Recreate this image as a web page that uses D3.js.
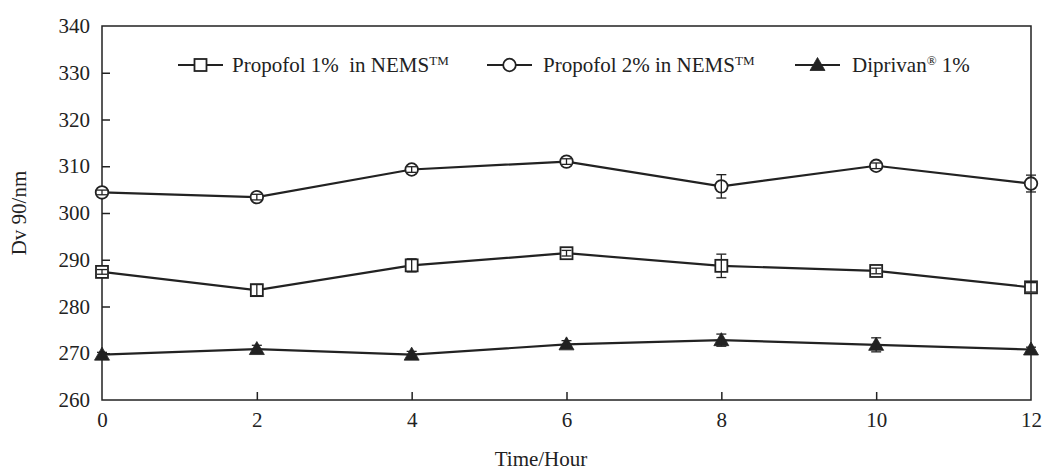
<!DOCTYPE html>
<html><head><meta charset="utf-8">
<script src="https://cdn.jsdelivr.net/npm/d3@7"></script>
<style>body{margin:0;background:#fff}svg{display:block}svg text{font-family:"Liberation Serif","Times New Roman",serif !important;fill:#222}</style>
</head><body><svg id="c" width="1048" height="476"></svg>
<script>
const hours = [0, 2, 4, 6, 8, 10, 12];
const yTicks = [260, 270, 280, 290, 300, 310, 320, 330, 340];
const xTicks = [0, 2, 4, 6, 8, 10, 12];
const p1Values = [287.4, 283.5, 288.8, 291.4, 288.7, 287.6, 284.1];
const p1Err    = [0.5, 1.2, 1.4, 0.6, 2.5, 0.6, 1.0];
const p2Values = [304.4, 303.4, 309.3, 311.0, 305.7, 310.1, 306.3];
const p2Err    = [0.5, 0.6, 0.6, 0.6, 2.5, 0.6, 1.8];
const dpValues = [269.7, 270.9, 269.7, 271.9, 272.8, 271.8, 270.8];
const dpErr    = [0.5, 0.8, 0.7, 0.8, 1.3, 1.5, 0.5];

const svg = d3.select("#c");
const L = 102, R = 1031, T = 26, B = 400;
const x = d3.scaleLinear().domain([0, 12]).range([L, R]);
const y = d3.scaleLinear().domain([260, 340]).range([B, T]);
const ink = "#222";
const FF = "Liberation Serif, Times New Roman, serif";

// frame
svg.append("rect").attr("x", L).attr("y", T).attr("width", R - L).attr("height", B - T)
  .attr("fill", "none").attr("stroke", ink).attr("stroke-width", 1.5);

// y axis
const ya = svg.append("g").attr("transform", `translate(${L},0)`)
  .call(d3.axisLeft(y).tickValues(yTicks).tickSize(-8).tickPadding(12).tickFormat(d3.format("d")));
ya.attr("font-family", FF).attr("font-size", 21);
ya.select(".domain").remove();
ya.selectAll("line").attr("stroke", ink).attr("stroke-width", 1.5);
ya.selectAll("text").attr("fill", ink);
ya.selectAll(".tick").filter(d => d === 260 || d === 340).select("line").remove();

// x axis
const xa = svg.append("g").attr("transform", `translate(0,${B})`)
  .call(d3.axisBottom(x).tickValues(xTicks).tickSize(-8).tickPadding(12).tickFormat(d3.format("d")));
xa.attr("font-family", FF).attr("font-size", 21);
xa.select(".domain").remove();
xa.selectAll("line").attr("stroke", ink).attr("stroke-width", 1.5);
xa.selectAll("text").attr("fill", ink);
xa.selectAll(".tick").filter(d => d === 0 || d === 12).select("line").remove();

// titles
svg.append("text").attr("x", 541).attr("y", 466).attr("text-anchor", "middle")
  .style("font-size", "21px").text("Time/Hour");
svg.append("text").attr("transform", `translate(26,${(T + B) / 2}) rotate(-90)`)
  .attr("text-anchor", "middle").style("font-size", "21px").text("Dv 90/nm");

const line = d3.line().x((d, i) => x(hours[i])).y(d => y(d));

function marker(g, type, cx, cy) {
  if (type === "square") {
    g.append("rect").attr("x", cx - 6).attr("y", cy - 6).attr("width", 12).attr("height", 12)
      .attr("fill", "#fff").attr("stroke", ink).attr("stroke-width", 1.8);
  } else if (type === "circle") {
    g.append("circle").attr("cx", cx).attr("cy", cy).attr("r", 6.3)
      .attr("fill", "#fff").attr("stroke", ink).attr("stroke-width", 1.8);
  } else {
    g.append("path").attr("d", `M${cx},${cy - 7.5}L${cx + 7.5},${cy + 5.5}L${cx - 7.5},${cy + 5.5}Z`)
      .attr("fill", ink).attr("stroke", ink).attr("stroke-width", 0.8);
  }
}

const series = [
  { vals: p1Values, err: p1Err, type: "square" },
  { vals: p2Values, err: p2Err, type: "circle" },
  { vals: dpValues, err: dpErr, type: "triangle" }
];

series.forEach(s => {
  const g = svg.append("g");
  g.append("path").attr("d", line(s.vals)).attr("fill", "none")
    .attr("stroke", ink).attr("stroke-width", 2.2);
  s.vals.forEach((v, i) => marker(g, s.type, x(hours[i]), y(v)));
  s.vals.forEach((v, i) => {
    const cx = x(hours[i]), y1 = y(v + s.err[i]), y2 = y(v - s.err[i]);
    g.append("line").attr("x1", cx).attr("x2", cx).attr("y1", y1).attr("y2", y2)
      .attr("stroke", ink).attr("stroke-width", 1.3);
    [y1, y2].forEach(yy => g.append("line").attr("x1", cx - 5).attr("x2", cx + 5)
      .attr("y1", yy).attr("y2", yy).attr("stroke", ink).attr("stroke-width", 1.3));
  });
});

// legend
const legend = [
  { x0: 178, tx: 232, type: "square", main: "Propofol 1%\u00A0\u00A0in NEMS", sup: "TM" },
  { x0: 487, tx: 543, type: "circle", main: "Propofol 2% in NEMS", sup: "TM" },
  { x0: 795, tx: 852, type: "triangle", main: "Diprivan", sup: "®", tail: " 1%" }
];
legend.forEach(l => {
  const ly = 65;
  svg.append("line").attr("x1", l.x0).attr("x2", l.x0 + 45).attr("y1", ly).attr("y2", ly)
    .attr("stroke", ink).attr("stroke-width", 2.2);
  marker(svg, l.type, l.x0 + 22.5, ly);
  const t = svg.append("text").attr("x", l.tx).attr("y", 72).style("font-size", "21px");
  t.append("tspan").text(l.main);
  t.append("tspan").attr("dy", -7).style("font-size", "13px").text(l.sup);
  if (l.tail) t.append("tspan").attr("dy", 7).text(l.tail);
});
</script></body></html>
